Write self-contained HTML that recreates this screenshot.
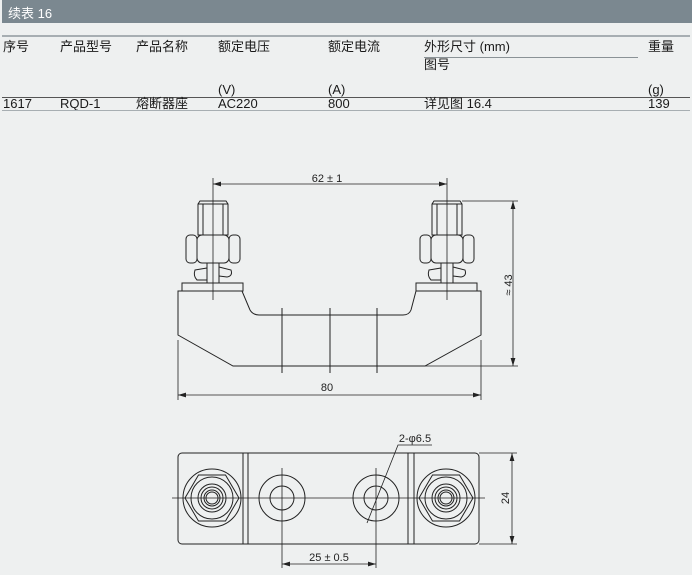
<!DOCTYPE html>
<html><head><meta charset="utf-8"><style>
html,body{margin:0;padding:0;background:#eef0f0;}
body{width:692px;height:575px;position:relative;overflow:hidden;font-family:"Liberation Sans","Noto Sans CJK SC",sans-serif;color:#1a1a1a;}
.bar{position:absolute;left:2px;top:0;width:690px;height:23px;background:#7b8890;}
.bar span{position:absolute;left:6px;top:3px;font-size:13px;color:#fff;}
.t{position:absolute;font-size:13px;line-height:15px;white-space:nowrap;}
.hl{position:absolute;left:2px;width:688px;height:2px;background:#a7aeb2;}
</style></head><body>
<div class="bar"><span>续表 16</span></div>
<div class="hl" style="top:35px"></div>
<div class="t" style="left:3px;top:39px">序号</div>
<div class="t" style="left:60px;top:39px">产品型号</div>
<div class="t" style="left:136px;top:39px">产品名称</div>
<div class="t" style="left:218px;top:39px">额定电压</div>
<div class="t" style="left:328px;top:39px">额定电流</div>
<div class="t" style="left:424px;top:39px">外形尺寸 (mm)</div>
<div style="position:absolute;left:424px;top:57px;width:214px;height:1px;background:#8a9296"></div>
<div class="t" style="left:424px;top:57px">图号</div>
<div class="t" style="left:648px;top:39px">重量</div>
<div class="t" style="left:218px;top:82px">(V)</div>
<div class="t" style="left:328px;top:82px">(A)</div>
<div class="t" style="left:648px;top:82px">(g)</div>
<div class="hl" style="top:97px;height:1px;background:#555"></div>
<div class="t" style="left:3px;top:96px">1617</div>
<div class="t" style="left:60px;top:96px">RQD-1</div>
<div class="t" style="left:136px;top:96px">熔断器座</div>
<div class="t" style="left:218px;top:96px">AC220</div>
<div class="t" style="left:328px;top:96px">800</div>
<div class="t" style="left:424px;top:96px">详见图 16.4</div>
<div class="t" style="left:648px;top:96px">139</div>
<div class="hl" style="top:110px;height:1px;background:#a7aeb2"></div>

<svg width="692" height="575" style="position:absolute;left:0;top:0" fill="none" stroke="#222" stroke-width="1">
<defs>
<g id="stud">
<path d="M-13,201 H13 L15,204 V235 H-15 V204 Z M-15,204 H15 M-10,204 V235 M10,204 V235" fill="#eef0f0"/>
<rect x="-27" y="235" width="11" height="28" rx="4" fill="#eef0f0"/>
<rect x="16" y="235" width="11" height="28" rx="4" fill="#eef0f0"/>
<rect x="-16" y="235" width="32" height="28" rx="5" fill="#eef0f0"/>
<path d="M-6,263 V283 M6,263 V283"/>
<path d="M-18,270 L-6,268 V280 L-16,280 Q-20,276 -18,270 Z M6,267 L18,270 Q20,276 14,277 L6,276"/>
<rect x="-31" y="283" width="61" height="8" fill="#eef0f0"/>
</g>
<g id="term">
<circle r="29"/><polygon points="27,0 13.5,23 -13.5,23 -27,0 -13.5,-23 13.5,-23"/>
<circle r="21"/><circle r="14"/><circle r="11"/><circle r="8"/><circle r="6"/>
</g>
<marker id="a" viewBox="0 0 10 6" refX="10" refY="3" markerWidth="10" markerHeight="6" orient="auto-start-reverse"><path d="M0,0 L10,3 L0,6 Z" fill="#222" stroke="none"/></marker>
</defs>
<path d="M178,291 H242 L250,310 Q253,315 259,315 H403 Q409,315 411,310 L416,291 H481 V335 L425,366 H233 L178,335 Z"/>
<path d="M282,308 V373 M330,308 V373 M377,308 V373"/>
<use href="#stud" transform="translate(213,0)"/>
<use href="#stud" transform="translate(447,0)"/>
<path d="M213,178 V300 M447,178 V300" stroke-width="0.8"/>
<line x1="213" y1="184" x2="447" y2="184" marker-start="url(#a)" marker-end="url(#a)" stroke-width="0.8"/>
<path d="M462,201 H518 M425,366 H518" stroke-width="0.8"/>
<line x1="513" y1="201" x2="513" y2="366" marker-start="url(#a)" marker-end="url(#a)" stroke-width="0.8"/>
<path d="M178,340 V400 M481,340 V400" stroke-width="0.8"/>
<line x1="178" y1="395" x2="481" y2="395" marker-start="url(#a)" marker-end="url(#a)" stroke-width="0.8"/>
<rect x="178" y="453" width="301" height="91" rx="4"/>
<path d="M243,453 V544 M248,453 V544 M408,453 V544 M414,453 V544"/>
<use href="#term" transform="translate(212,498)"/>
<use href="#term" transform="translate(446,498)"/>
<circle cx="282" cy="498" r="23"/><circle cx="282" cy="498" r="12"/>
<circle cx="376" cy="498" r="23"/><circle cx="376" cy="498" r="12"/>
<path d="M172,498 H485" stroke-width="0.8"/>
<path d="M282,468 V568 M376,468 V568" stroke-width="0.8"/>
<line x1="282" y1="564" x2="376" y2="564" marker-start="url(#a)" marker-end="url(#a)" stroke-width="0.8"/>
<path d="M367,523 L398,445 H432" stroke-width="0.8"/>
<path d="M479,453 H517 M479,544 H517" stroke-width="0.8"/>
<line x1="512" y1="453" x2="512" y2="544" marker-start="url(#a)" marker-end="url(#a)" stroke-width="0.8"/>
<g fill="#222" stroke="none" font-family="Liberation Sans, sans-serif" font-size="11" text-anchor="middle">
<text x="327" y="182">62 ± 1</text>
<text x="327" y="391">80</text>
<text x="329" y="561">25 ± 0.5</text>
<text x="415" y="442">2-φ6.5</text>
<text transform="translate(512,285) rotate(-90)">≈ 43</text>
<text transform="translate(509,498) rotate(-90)">24</text>
</g>
</svg>
</body></html>
